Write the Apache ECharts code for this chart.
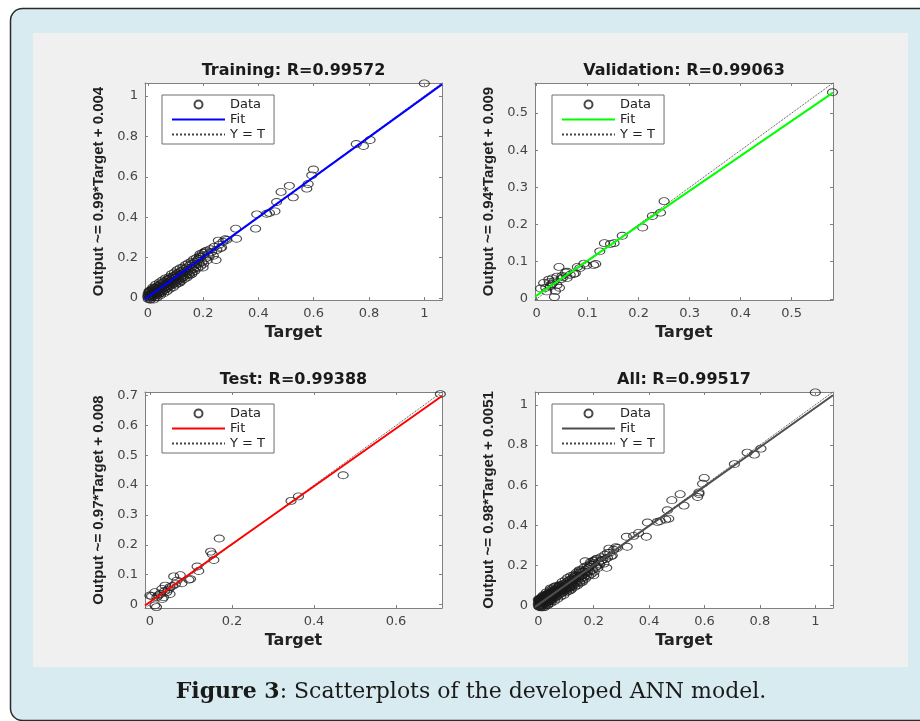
<!DOCTYPE html>
<html>
<head>
<meta charset="utf-8">
<script src="https://cdn.jsdelivr.net/npm/echarts@6/dist/echarts.min.js"></script>
<style>
html,body{margin:0;padding:0;background:#ffffff;}
#chart{width:920px;height:721px;}
</style>
</head>
<body>
<div id="chart"></div>
<script>
// ---------- DATA ----------
const panelTitles = ['Training: R=0.99572', 'Validation: R=0.99063', 'Test: R=0.99388', 'All: R=0.99517'];
const yAxisNames = ['Output ~= 0.99*Target + 0.004', 'Output ~= 0.94*Target + 0.009', 'Output ~= 0.97*Target + 0.008', 'Output ~= 0.98*Target + 0.0051'];
const xAxisName = 'Target';
const fitSlopes = [0.99, 0.94, 0.97, 0.98];
const fitIntercepts = [0.004, 0.009, 0.008, 0.0051];
const axisLimits = [[-0.01, 1.064], [-0.003, 0.581], [-0.012, 0.712], [-0.012, 1.064]];
const xTickValues = [[0, 0.2, 0.4, 0.6, 0.8, 1], [0, 0.1, 0.2, 0.3, 0.4, 0.5], [0, 0.2, 0.4, 0.6], [0, 0.2, 0.4, 0.6, 0.8, 1]];
const yTickValues = [[0, 0.2, 0.4, 0.6, 0.8, 1], [0, 0.1, 0.2, 0.3, 0.4, 0.5], [0, 0.1, 0.2, 0.3, 0.4, 0.5, 0.6, 0.7], [0, 0.2, 0.4, 0.6, 0.8, 1]];
const fitColors = ['#0000ff', '#00ff00', '#ff0000', '#4d4d4d'];
const legendLabels = {Data: 'Data', Fit: 'Fit', YT: 'Y = T'};
const captionBold = 'Figure 3';
const captionRest = ': Scatterplots of the developed ANN model.';

// [target, output]
const trainingPoints = [
  [0.000,0.006],[0.001,0.019],[0.002,-0.005],[0.003,0.011],[0.004,0.027],[0.005,0.001],[0.006,0.015],[0.007,0.032],
  [0.008,0.006],[0.009,-0.009],[0.010,0.021],[0.011,0.037],[0.012,0.012],[0.013,0.002],[0.014,-0.015],[0.015,0.028],
  [0.016,0.043],[0.017,0.017],[0.018,0.008],[0.019,0.033],[0.020,0.023],[0.021,0.048],[0.022,0.012],[0.024,0.038],
  [0.025,0.027],[0.026,0.004],[0.027,0.051],[0.028,0.019],[0.030,0.042],[0.031,0.031],[0.032,0.013],[0.033,0.056],
  [0.035,0.024],[0.036,0.046],[0.037,0.036],[0.039,0.061],[0.040,0.019],[0.041,0.050],[0.043,0.029],[0.044,0.066],
  [0.045,0.041],[0.047,0.055],[0.048,0.025],[0.050,0.072],[0.051,0.044],[0.053,0.059],[0.054,0.034],[0.056,0.077],
  [0.057,0.049],[0.059,0.064],[0.060,0.040],[0.062,0.081],[0.063,0.055],[0.065,0.070],[0.066,0.046],[0.068,0.088],
  [0.069,0.060],[0.071,0.074],[0.072,0.051],[0.074,0.094],[0.075,0.066],[0.077,0.081],[0.079,0.058],[0.080,0.097],
  [0.082,0.072],[0.083,0.087],[0.085,0.063],[0.087,0.104],[0.088,0.078],[0.090,0.092],[0.091,0.069],[0.093,0.109],
  [0.095,0.083],[0.096,0.099],[0.098,0.075],[0.100,0.114],[0.102,0.089],[0.103,0.104],[0.105,0.081],[0.107,0.121],
  [0.109,0.095],[0.111,0.110],[0.113,0.088],[0.115,0.128],[0.116,0.076],[0.118,0.116],[0.120,0.097],[0.122,0.135],
  [0.124,0.109],[0.126,0.123],[0.128,0.103],[0.131,0.142],[0.133,0.116],[0.135,0.131],[0.138,0.111],[0.140,0.150],
  [0.143,0.126],[0.146,0.140],[0.149,0.119],[0.152,0.162],[0.155,0.135],[0.158,0.151],[0.159,0.118],[0.162,0.170],
  [0.165,0.143],[0.168,0.159],[0.171,0.178],[0.174,0.151],[0.177,0.167],[0.180,0.186],[0.183,0.193],[0.186,0.169],
  [0.189,0.217],[0.192,0.202],[0.196,0.177],[0.200,0.151],[0.200,0.211],[0.205,0.225],[0.210,0.197],[0.213,0.234],
  [0.218,0.215],[0.222,0.205],[0.226,0.241],[0.231,0.228],[0.237,0.209],[0.240,0.253],[0.247,0.188],[0.250,0.238],
  [0.255,0.284],[0.258,0.263],[0.263,0.246],[0.267,0.250],[0.272,0.278],[0.280,0.291],[0.285,0.287],
  [0.005,0.035],[0.010,-0.006],[0.018,0.052],[0.022,-0.008],[0.029,0.066],[0.034,0.003],[0.042,0.076],[0.046,0.013],
  [0.052,0.086],[0.058,0.023],[0.064,0.097],[0.070,0.034],[0.076,0.103],[0.081,0.046],[0.086,0.118],[0.092,0.053],
  [0.097,0.126],[0.101,0.066],[0.106,0.138],[0.110,0.073],[0.117,0.147],[0.121,0.084],[0.127,0.151],[0.132,0.094],
  [0.137,0.164],[0.142,0.102],[0.147,0.172],[0.151,0.113],[0.157,0.179],[0.161,0.127],[0.166,0.191],[0.170,0.134],
  [0.176,0.198],[0.181,0.147],[0.187,0.206],[0.191,0.158],[0.198,0.223],[0.202,0.169],[0.208,0.231],[0.215,0.187],
  [0.318,0.343],[0.321,0.293],[0.390,0.343],[0.394,0.414],[0.430,0.417],[0.440,0.421],[0.460,0.429],[0.466,0.475],
  [0.482,0.525],[0.512,0.555],[0.526,0.498],[0.575,0.541],[0.580,0.564],[0.593,0.607],[0.599,0.636],
  [0.754,0.762],[0.780,0.752],[0.804,0.782],[1.000,1.062]
];
const validationPoints = [
  [0.003,-0.006],[0.008,0.028],[0.014,0.043],[0.018,0.030],[0.020,0.020],[0.024,0.052],[0.025,0.045],[0.027,0.034],
  [0.030,0.040],[0.031,0.055],[0.034,0.047],[0.035,0.005],[0.037,0.021],[0.040,0.037],[0.040,0.060],[0.044,0.086],
  [0.045,0.030],[0.048,0.053],[0.050,0.062],[0.052,0.058],[0.057,0.071],[0.060,0.056],[0.060,0.073],[0.066,0.065],
  [0.073,0.067],[0.076,0.069],[0.080,0.086],[0.085,0.083],[0.093,0.095],[0.098,0.090],[0.112,0.091],[0.116,0.094],
  [0.124,0.128],[0.133,0.150],[0.145,0.148],[0.152,0.150],[0.168,0.170],[0.208,0.192],[0.227,0.223],[0.243,0.232],
  [0.250,0.263],[0.580,0.556]
];
const testPoints = [
  [0.000,0.030],[0.004,0.028],[0.012,-0.003],[0.016,-0.009],[0.012,0.041],[0.017,0.024],[0.020,0.030],[0.025,0.035],
  [0.029,0.052],[0.030,0.018],[0.033,0.024],[0.036,0.045],[0.037,0.063],[0.041,0.041],[0.045,0.050],[0.049,0.035],
  [0.049,0.058],[0.055,0.062],[0.058,0.094],[0.062,0.068],[0.066,0.080],[0.074,0.098],[0.078,0.071],[0.095,0.083],
  [0.099,0.085],[0.115,0.127],[0.119,0.112],[0.148,0.177],[0.152,0.168],[0.156,0.149],[0.169,0.221],[0.344,0.347],
  [0.362,0.362],[0.471,0.433],[0.708,0.705]
];
const allPoints = trainingPoints.concat(validationPoints, testPoints);
const panelPoints = [trainingPoints, validationPoints, testPoints, allPoints];

// ---------- LAYOUT ----------
const gridBoxes = [
  {left: 145, top: 83, width: 297, height: 217},
  {left: 535, top: 83, width: 298, height: 217},
  {left: 145, top: 392, width: 297, height: 216},
  {left: 535, top: 392, width: 298, height: 216}
];
const axisColor = '#808080';
const tickFont = 'DejaVu Sans';

const grid = [], xAxis = [], yAxis = [], series = [], legend = [], title = [];
gridBoxes.forEach(function (g, i) {
  const lim = axisLimits[i];
  grid.push({left: g.left, top: g.top, width: g.width, height: g.height, show: true, backgroundColor: '#ffffff', borderWidth: 0});
  const lineStyle = {color: axisColor, width: 1};
  xAxis.push({
    gridIndex: i, type: 'value', min: lim[0], max: lim[1], position: 'bottom',
    axisLine: {show: true, onZero: false, lineStyle: lineStyle},
    axisTick: {show: true, inside: true, length: 3, customValues: xTickValues[i], lineStyle: lineStyle},
    axisLabel: {show: true, customValues: xTickValues[i], margin: 7, color: '#444', fontFamily: tickFont, fontSize: 13},
    splitLine: {show: false},
    name: xAxisName, nameLocation: 'middle', nameGap: 25,
    nameTextStyle: {fontFamily: 'DejaVu Sans', fontWeight: 'bold', fontSize: 16, color: '#222'}
  });
  xAxis.push({
    gridIndex: i, type: 'value', min: lim[0], max: lim[1], position: 'top',
    axisLine: {show: true, onZero: false, lineStyle: lineStyle},
    axisTick: {show: true, inside: true, length: 3, customValues: xTickValues[i], lineStyle: lineStyle},
    axisLabel: {show: false}, splitLine: {show: false}
  });
  yAxis.push({
    gridIndex: i, type: 'value', min: lim[0], max: lim[1], position: 'left',
    axisLine: {show: true, onZero: false, lineStyle: lineStyle},
    axisTick: {show: true, inside: true, length: 3, customValues: yTickValues[i], lineStyle: lineStyle},
    axisLabel: {show: true, customValues: yTickValues[i], margin: 7, color: '#444', fontFamily: tickFont, fontSize: 13},
    splitLine: {show: false},
    name: yAxisNames[i], nameLocation: 'middle', nameGap: 39, nameRotate: 90,
    nameTextStyle: {fontFamily: 'Liberation Sans', fontWeight: 'bold', fontSize: 15, color: '#222'}
  });
  yAxis.push({
    gridIndex: i, type: 'value', min: lim[0], max: lim[1], position: 'right',
    axisLine: {show: true, onZero: false, lineStyle: lineStyle},
    axisTick: {show: true, inside: true, length: 3, customValues: yTickValues[i], lineStyle: lineStyle},
    axisLabel: {show: false}, splitLine: {show: false}
  });
  series.push({
    name: 'Data' + i, type: 'scatter', xAxisIndex: 2 * i, yAxisIndex: 2 * i,
    data: panelPoints[i], symbol: 'circle', symbolSize: [10, 7],
    itemStyle: {color: 'rgba(0,0,0,0)', borderColor: '#1a1a1a', borderWidth: 1},
    emphasis: {disabled: true}, z: 2, silent: true
  });
  const m = fitSlopes[i], b = fitIntercepts[i];
  series.push({
    name: 'Fit' + i, type: 'line', xAxisIndex: 2 * i, yAxisIndex: 2 * i,
    data: [[lim[0], m * lim[0] + b], [lim[1], m * lim[1] + b]],
    symbol: 'none', lineStyle: {color: fitColors[i], width: 2}, itemStyle: {color: fitColors[i]},
    emphasis: {disabled: true}, z: 4, silent: true, animation: false
  });
  series.push({
    name: 'YT' + i, type: 'line', xAxisIndex: 2 * i, yAxisIndex: 2 * i,
    data: [[lim[0], lim[0]], [lim[1], lim[1]]],
    symbol: 'none', lineStyle: {color: '#444', width: 1, type: 'dotted'}, itemStyle: {color: '#444'},
    emphasis: {disabled: true}, z: 3, silent: true, animation: false
  });
  legend.push({
    orient: 'vertical', left: g.left + 17, top: g.top + 12,
    data: [
      {name: 'Data' + i},
      {name: 'Fit' + i, itemStyle: {opacity: 0}},
      {name: 'YT' + i, itemStyle: {opacity: 0}}
    ],
    formatter: function (name) { return legendLabels[name.replace(/\d+$/, '')]; },
    itemWidth: 53, itemHeight: 8, itemGap: 2, padding: [3, 9, 3, 9],
    backgroundColor: '#ffffff', borderColor: '#6e6e6e', borderWidth: 1, borderRadius: 0,
    selectedMode: false,
    textStyle: {fontFamily: 'DejaVu Sans', fontSize: 13, color: '#222', lineHeight: 13}
  });
  title.push({
    text: panelTitles[i], left: g.left + g.width / 2, top: g.top - 20, textAlign: 'center', padding: 0,
    textStyle: {fontFamily: 'DejaVu Sans', fontWeight: 'bold', fontSize: 16, color: '#1a1a1a'}
  });
});

const chart = echarts.init(document.getElementById('chart'), null, {renderer: 'canvas'});
chart.setOption({
  animation: false,
  backgroundColor: '#ffffff',
  graphic: [
    {type: 'rect', z: -20, silent: true, shape: {x: 10.5, y: 8.5, width: 940, height: 712, r: 12},
     style: {fill: '#d8ebf1', stroke: '#2a2a2a', lineWidth: 1.5}},
    {type: 'rect', z: -19, silent: true, shape: {x: 33, y: 33, width: 875, height: 634},
     style: {fill: '#f0f0f0'}},
    {type: 'text', z: 10, silent: true, x: 471, y: 692,
     style: {text: '{b|' + captionBold + '}' + captionRest, fontFamily: 'DejaVu Serif', fontSize: 22, fill: '#1a1a1a',
       align: 'center', verticalAlign: 'middle',
       rich: {b: {fontFamily: 'DejaVu Serif', fontSize: 22, fontWeight: 'bold', fill: '#1a1a1a'}}}}
  ],
  title: title,
  legend: legend,
  grid: grid,
  xAxis: xAxis,
  yAxis: yAxis,
  series: series
});
</script>
</body>
</html>
